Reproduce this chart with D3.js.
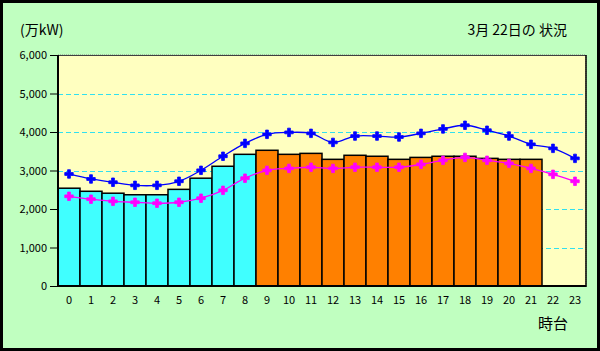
<!DOCTYPE html>
<html>
<head>
  <meta charset="utf-8">
  <script src="https://d3js.org/d3.v7.min.js"></script>
  <style>
    body { margin: 0; }
    text { font-family: "Noto Sans CJK JP", "DejaVu Sans", sans-serif; fill: #000; }
  </style>
</head>
<body>
<svg width="600" height="351"></svg>
<script>
  // hours 0..23
  const hours = d3.range(24).map(String);
  // actual demand (bars), only up to 21
  const actual = [2540, 2460, 2410, 2370, 2370, 2510, 2800, 3110, 3420, 3525,
                  3420, 3445, 3290, 3395, 3370, 3290, 3340, 3370, 3370, 3315,
                  3290, 3290];
  // blue line
  const blueLine = [2910, 2780, 2695, 2615, 2615, 2720, 3005, 3370, 3705, 3940,
                    3990, 3965, 3730, 3895, 3895, 3870, 3965, 4080, 4175, 4045,
                    3895, 3680, 3575, 3315];
  // magenta line
  const pinkLine = [2330, 2255, 2200, 2175, 2150, 2175, 2280, 2485, 2800, 3005,
                    3055, 3085, 3055, 3085, 3085, 3085, 3160, 3265, 3340, 3265,
                    3185, 3055, 2900, 2720];
  const yTicks = [0, 1000, 2000, 3000, 4000, 5000, 6000];

  const svg = d3.select("svg");
  const W = 600, H = 351;

  // background + frame
  svg.append("rect").attr("x", 1.5).attr("y", 1.5).attr("width", W - 3).attr("height", H - 3)
    .attr("fill", "#C0FFC0").attr("stroke", "#000").attr("stroke-width", 3);

  const pLeft = 58, pRight = 586, pTop = 55, pBottom = 286;

  const x = d3.scaleBand().domain(hours).range([pLeft, pRight]).padding(0);
  const y = d3.scaleLinear().domain([0, 6000]).range([pBottom, pTop]);

  // plot area
  svg.append("rect").attr("x", pLeft).attr("y", pTop).attr("width", pRight - pLeft).attr("height", pBottom - pTop)
    .attr("fill", "#FFFFC0").attr("stroke", "#808080").attr("stroke-width", 1)
    .attr("stroke-dasharray", "1,1");
  svg.append("line").attr("x1", pLeft).attr("x2", pRight).attr("y1", pTop + 0.5).attr("y2", pTop + 0.5)
    .attr("stroke", "#404040");

  // grid lines
  svg.append("g").selectAll("line")
    .data(yTicks.filter(d => d > 0 && d < 6000))
    .join("line")
      .attr("x1", pLeft).attr("x2", pRight)
      .attr("y1", d => Math.round(y(d)) + 0.5).attr("y2", d => Math.round(y(d)) + 0.5)
      .attr("stroke", "#30E0F0").attr("stroke-dasharray", "5,3");

  // bars
  svg.append("g").selectAll("rect")
    .data(actual)
    .join("rect")
      .attr("x", (d, i) => x(hours[i]))
      .attr("y", d => y(d))
      .attr("width", x.bandwidth())
      .attr("height", d => pBottom - y(d))
      .attr("fill", (d, i) => i < 9 ? "#40FFFF" : "#FF8000")
      .attr("stroke", "#000").attr("stroke-width", 1.5);

  // y axis
  const yAxis = svg.append("g")
    .attr("transform", `translate(${pLeft},0)`)
    .call(d3.axisLeft(y).tickValues(yTicks).tickSize(8).tickPadding(3).tickFormat(d3.format(",")));
  yAxis.select(".domain").attr("stroke-width", 2).attr("d", `M0,${pTop}V${pBottom}`);
  yAxis.selectAll("text").attr("font-size", 11).attr("font-family", "'Liberation Sans', Arial, sans-serif");

  // x axis
  const xAxis = svg.append("g")
    .attr("transform", `translate(0,${pBottom})`)
    .call(d3.axisBottom(x).tickSize(0).tickPadding(10));
  xAxis.select(".domain").attr("stroke-width", 2).attr("d", `M${pLeft},0H${pRight}`);
  xAxis.selectAll("text").attr("font-size", 11).attr("font-family", "'Liberation Sans', Arial, sans-serif");

  svg.append("line").attr("x1", pRight).attr("x2", pRight).attr("y1", pTop).attr("y2", pBottom + 1)
    .attr("stroke", "#000").attr("stroke-width", 1.5);

  // lines
  const cx = i => x(hours[i]) + x.bandwidth() / 2;
  const line = d3.line().x((d, i) => cx(i)).y(d => y(d)).curve(d3.curveCatmullRom.alpha(0.5));
  const marker = d3.symbol().type(d3.symbolCross).size(40);

  [[blueLine, "#0000FF"], [pinkLine, "#FF00FF"]].forEach(([data, col]) => {
    svg.append("path").datum(data).attr("d", line)
      .attr("fill", "none").attr("stroke", col).attr("stroke-width", 1.3);
    svg.append("g").selectAll("path")
      .data(data)
      .join("path")
        .attr("transform", (d, i) => `translate(${cx(i)},${y(d)})`)
        .attr("d", marker)
        .attr("fill", col).attr("stroke", col).attr("stroke-width", 0.8)
        .attr("stroke-linejoin", "round");
  });

  // titles
  svg.append("text").attr("x", 20).attr("y", 35).attr("font-size", 14).text("(万kW)");
  svg.append("text").attr("x", 567).attr("y", 35).attr("font-size", 14)
    .attr("text-anchor", "end").text("3月 22日の 状況");
  svg.append("text").attr("x", 568).attr("y", 329).attr("font-size", 15)
    .attr("text-anchor", "end").text("時台");
</script>
</body>
</html>
